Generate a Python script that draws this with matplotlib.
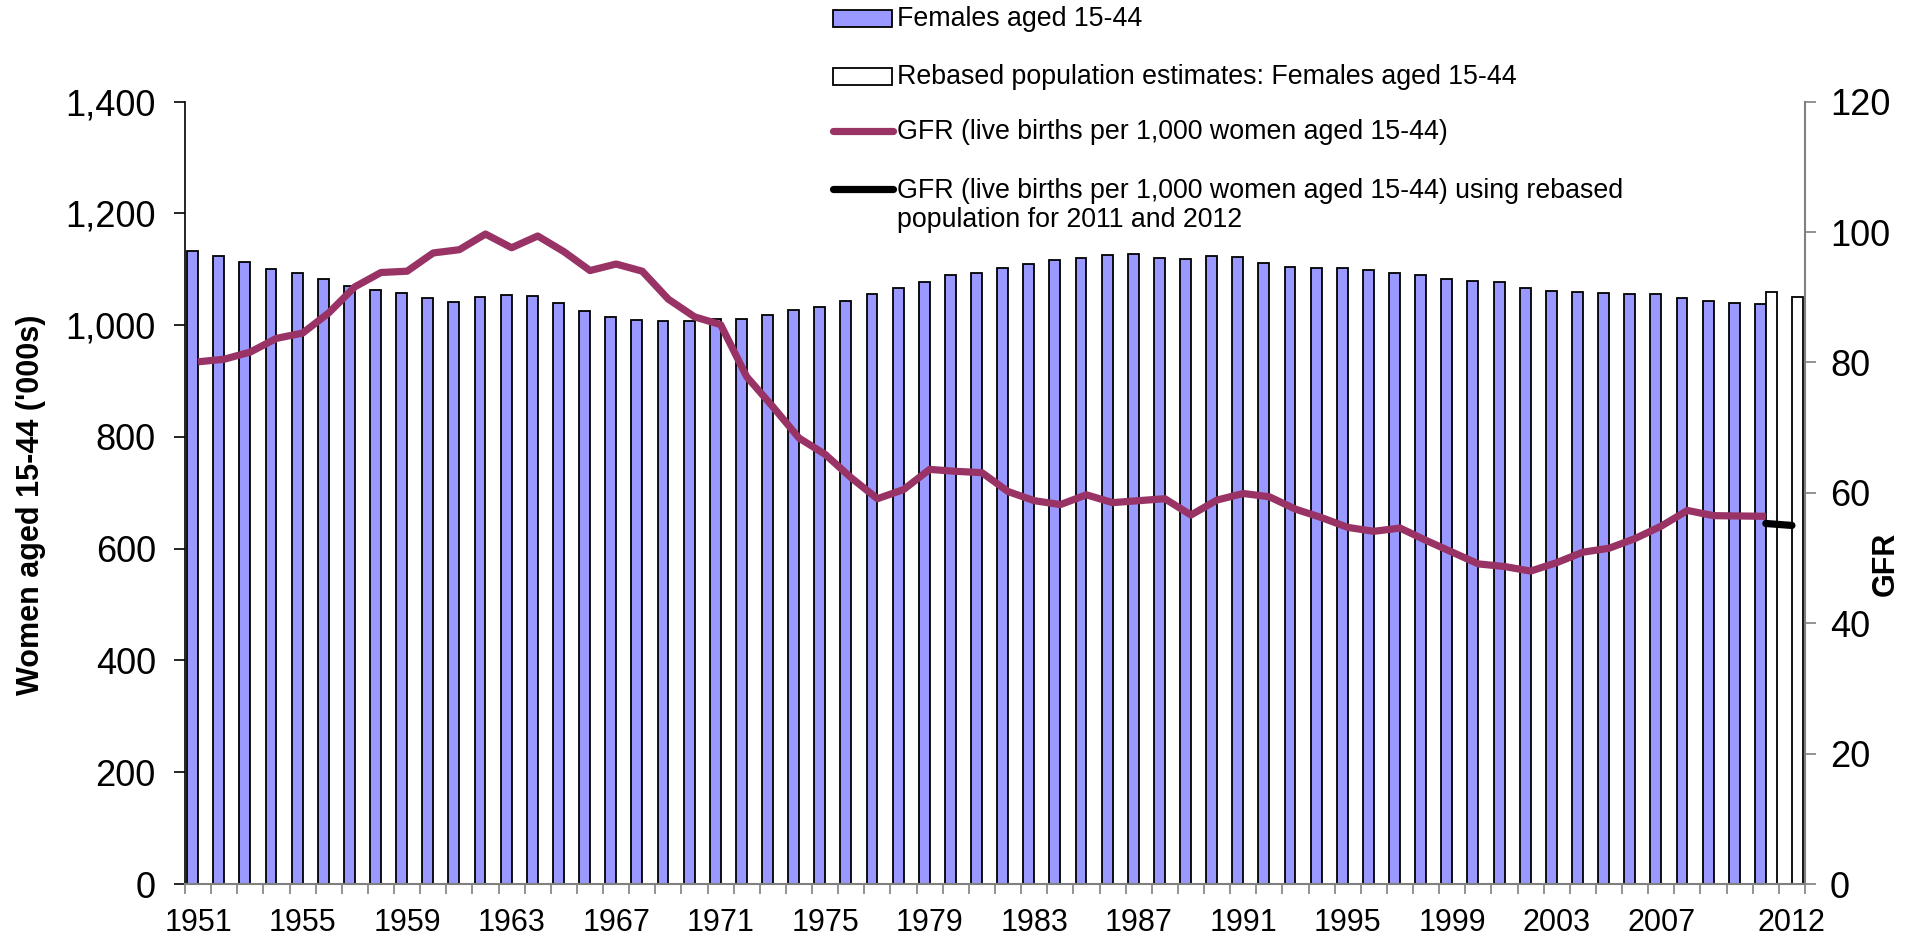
import matplotlib
matplotlib.use("Agg")
import matplotlib.pyplot as plt
from matplotlib.patches import Rectangle
from matplotlib.lines import Line2D
from matplotlib.ticker import FuncFormatter, MultipleLocator
import numpy as np

plt.rcParams['font.family'] = ['Liberation Sans', 'DejaVu Sans']

years = list(range(1951, 2013))

# Females aged 15-44 ('000s), 1951-2011
females = [
    1133, 1124, 1113, 1101, 1094, 1082, 1071, 1063, 1057, 1048,
    1042, 1050, 1054, 1053, 1040, 1026, 1015, 1009, 1008, 1008,
    1011, 1012, 1018, 1028, 1033, 1044, 1056, 1066, 1078, 1089,
    1094, 1102, 1109, 1116, 1121, 1126, 1128, 1121, 1119, 1123,
    1122, 1111, 1104, 1102, 1102, 1098, 1094, 1089, 1083, 1080,
    1077, 1066, 1062, 1060, 1057, 1056, 1055, 1049, 1043, 1040,
    1038,
]
# rebased population estimates, 2011-2012
rebased_years = [2011, 2012]
rebased = [1059, 1051]

# GFR (live births per 1,000 women aged 15-44), 1951-2011
gfr = [
    80.1, 80.5, 81.6, 83.7, 84.5, 87.6, 91.6, 93.8, 94.0, 96.8,
    97.3, 99.7, 97.6, 99.4, 97.0, 94.1, 95.1, 94.0, 89.7, 87.0,
    85.8, 77.8, 73.2, 68.4, 65.9, 62.3, 59.1, 60.5, 63.6, 63.3,
    63.1, 60.2, 58.8, 58.2, 59.7, 58.5, 58.8, 59.1, 56.6, 58.9,
    59.9, 59.4, 57.5, 56.2, 54.7, 54.1, 54.6, 52.7, 50.9, 49.1,
    48.7, 48.0, 49.3, 50.9, 51.5, 53.0, 54.9, 57.3, 56.5, 56.45,
    56.4,
]
gfr_rebased = [55.3, 55.0]

label_years = list(range(1951, 2008, 4)) + [2012]

W, H = 1919, 947
fig = plt.figure(figsize=(W / 100, H / 100), dpi=100)
ax = fig.add_axes([185 / W, (H - 884) / H, (1805 - 185) / W, (884 - 101.7) / H])

bar_w = 1 / 2.4
x_f = np.array([years.index(y) for y in years[:len(females)]])
x_r = np.array([years.index(y) for y in rebased_years])

ax.bar(x_f - bar_w / 2, females, width=bar_w, color='#9999FF', edgecolor='black', linewidth=1.3)
ax.bar(x_r + bar_w / 2, rebased, width=bar_w, color='white', edgecolor='black', linewidth=1.3)

ax.set_xlim(-0.5, len(years) - 0.5)
ax.set_ylim(0, 1400)
ax.yaxis.set_major_locator(MultipleLocator(200))
ax.yaxis.set_major_formatter(FuncFormatter(lambda v, p: f"{int(v):,}"))
ax.tick_params(axis='y', labelsize=26, length=8, width=1.2, direction='out', pad=13)

ax.set_xticks(np.arange(-0.5, len(years), 1.0))
ax.set_xticklabels([])
ax.set_xticks([years.index(y) for y in label_years], minor=True)
ax.set_xticklabels([str(y) for y in label_years], minor=True)
ax.tick_params(axis='x', which='major', length=7, width=1.2, color='#808080', direction='out')
ax.tick_params(axis='x', which='minor', length=0, labelsize=22, pad=17)

ax.spines['top'].set_visible(False)
ax.spines['right'].set_visible(False)
ax.spines['left'].set_linewidth(1.2)
ax.spines['bottom'].set_color('#808080')
ax.spines['bottom'].set_linewidth(1.5)

ax.set_ylabel("Women aged 15-44 ('000s)", fontsize=22, fontweight='bold', va='center')
ax.yaxis.set_label_coords(-0.0953, 0.4845)

ax2 = ax.twinx()
ax2.plot(x_f, gfr, color='#993366', linewidth=5.2, solid_joinstyle='round', solid_capstyle='butt')
ax2.plot(x_r, gfr_rebased, color='black', linewidth=5.2, solid_capstyle='round')
ax2.set_ylim(0, 120)
ax2.yaxis.set_major_locator(MultipleLocator(20))
ax2.tick_params(axis='y', labelsize=26, length=8, width=1.2, color='#808080', direction='out', pad=10)
for s in ['top', 'left', 'bottom']:
    ax2.spines[s].set_visible(False)
ax2.spines['right'].set_color('#808080')
ax2.spines['right'].set_linewidth(1.5)
ax2.set_ylabel("GFR", fontsize=22, fontweight='bold', va='center')
ax2.yaxis.set_label_coords(1.050, 0.409)

# legend, drawn in figure pixel coordinates
def fx(px):
    return px / W

def fy(py):
    return 1 - py / H

fs = 19.3
fig.add_artist(Rectangle((fx(833), fy(27)), fx(892) - fx(833), (27 - 10) / H,
                         facecolor='#9999FF', edgecolor='black', linewidth=1.3, transform=fig.transFigure))
fig.text(fx(897), fy(18.5), "Females aged 15-44", fontsize=fs, va='center', ha='left')
fig.add_artist(Rectangle((fx(833), fy(85)), fx(892) - fx(833), (85 - 68) / H,
                         facecolor='white', edgecolor='black', linewidth=1.3, transform=fig.transFigure))
fig.text(fx(897), fy(76.5), "Rebased population estimates: Females aged 15-44", fontsize=fs, va='center', ha='left')
fig.add_artist(Line2D([fx(833), fx(893)], [fy(131), fy(131)], color='#993366', linewidth=5.2,
                      solid_capstyle='round', transform=fig.transFigure))
fig.text(fx(897), fy(132), "GFR (live births per 1,000 women aged 15-44)", fontsize=fs, va='center', ha='left')
fig.add_artist(Line2D([fx(833), fx(893)], [fy(189), fy(189)], color='black', linewidth=5.2,
                      solid_capstyle='round', transform=fig.transFigure))
fig.text(fx(897), fy(191), "GFR (live births per 1,000 women aged 15-44) using rebased",
         fontsize=fs, va='center', ha='left')
fig.text(fx(897), fy(220), "population for 2011 and 2012", fontsize=fs, va='center', ha='left')

fig.savefig("out.png", dpi=100)
